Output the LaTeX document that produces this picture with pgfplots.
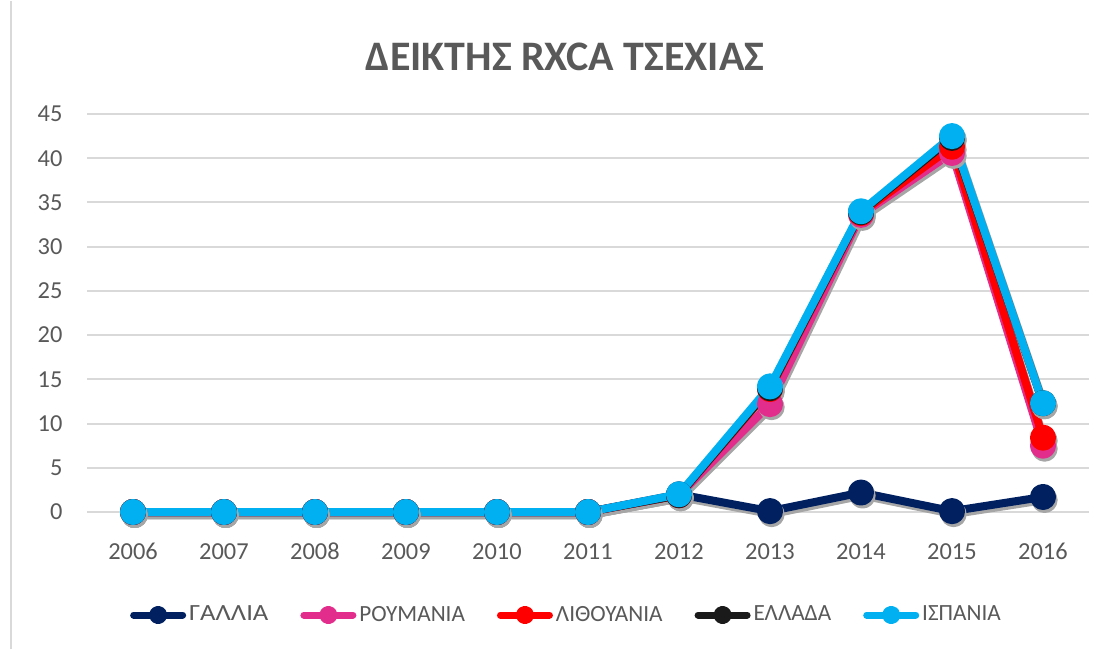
\documentclass[border=0pt]{standalone}
\usepackage{pgfplots}
\pgfplotsset{compat=1.18}
\usepackage{pgfplotstable}
\usepackage{fontspec}
\setmainfont{Carlito}
\definecolor{txt}{HTML}{595959}
\definecolor{gridc}{HTML}{D9D9D9}
\definecolor{cgal}{HTML}{002060}
\definecolor{crou}{HTML}{E32D8C}
\definecolor{clit}{HTML}{FF0000}
\definecolor{cell}{HTML}{1A1A1A}
\definecolor{cisp}{HTML}{00B0F0}
\pgfplotstableread{
year gal rou lit ell isp
2006 0 0 0 0 0
2007 0 0 0 0 0
2008 0 0 0 0 0
2009 0 0 0 0 0
2010 0 0 0 0 0
2011 0 0 0 0 0
2012 2.0 1.9 1.9 1.9 2.0
2013 0.1 12.2 13.9 14.0 14.2
2014 2.2 33.6 33.8 33.9 34.0
2015 0.1 40.6 41.3 42.3 42.5
2016 1.7 7.5 8.4 12.3 12.3
}\data
\pgfplotsset{
  ser/.style={line width=4pt, line join=round, mark=*, mark size=4.5pt, mark options={solid}},
  shd/.style={forget plot, color=black!35, line width=4pt, line join=round, mark=*, mark size=4.5pt, xshift=0.8pt, yshift=-1.5pt},
}
\begin{document}
\begin{tikzpicture}[x=1pt,y=1pt]
\path (0,0) rectangle (554,324);
\draw[color=gridc, line width=1pt] (5.5,0) -- (5.5,324);
\node[font=\bfseries\fontsize{21}{25}\selectfont, text=txt] at (282.5,296) {ΔΕΙΚΤΗΣ RXCA ΤΣΕΧΙΑΣ};
\begin{axis}[
  at={(43.75pt,68.5pt)}, anchor=south west,
  scale only axis, width=500.5pt, height=199pt,
  xmin=2005.5, xmax=2016.5, ymin=0, ymax=45,
  xtick={2006,...,2016},
  xticklabels={2006,2007,2008,2009,2010,2011,2012,2013,2014,2015,2016},
  ytick={0,5,...,45},
  axis line style={draw=none},
  tick style={draw=none},
  ymajorgrids, major grid style={color=gridc, line width=1pt},
  ticklabel style={font=\fontsize{12.2}{14}\selectfont, text=txt},
  /pgf/number format/assume math mode=true,
  yticklabel style={xshift=-9pt},
  xticklabel style={anchor=base, yshift=-23.5pt},
  clip=false,
  legend columns=5,
  legend style={at={(axis description cs:0.479,-0.2588)}, anchor=center, draw=none,
    font=\fontsize{11.6}{14}\selectfont, text=txt,
    /tikz/every even column/.append style={column sep=14.5pt},
    nodes={inner xsep=1.5pt}},
  legend cell align=left,
  legend image code/.code={\draw[line width=3.5pt, line cap=round] (0pt,0pt) -- (24.5pt,0pt); \fill (12.25pt,0pt) circle (2.6pt);},
]
\addplot[shd] table[x=year,y=gal]{\data};
\addplot[shd] table[x=year,y=rou]{\data};
\addplot[shd] table[x=year,y=lit]{\data};
\addplot[shd] table[x=year,y=ell]{\data};
\addplot[shd] table[x=year,y=isp]{\data};
\addplot[ser, color=cgal] table[x=year,y=gal]{\data};
\addlegendentry{\scalebox{1.15}[1]{ΓΑΛΛΙΑ}}
\addplot[ser, color=crou] table[x=year,y=rou]{\data};
\addlegendentry{ΡΟΥΜΑΝΙΑ}
\addplot[ser, color=clit] table[x=year,y=lit]{\data};
\addlegendentry{ΛΙΘΟΥΑΝΙΑ}
\addplot[ser, color=cell] table[x=year,y=ell]{\data};
\addlegendentry{ΕΛΛΑΔΑ}
\addplot[ser, color=cisp] table[x=year,y=isp]{\data};
\addlegendentry{ΙΣΠΑΝΙΑ}
\end{axis}
\end{tikzpicture}
\end{document}
